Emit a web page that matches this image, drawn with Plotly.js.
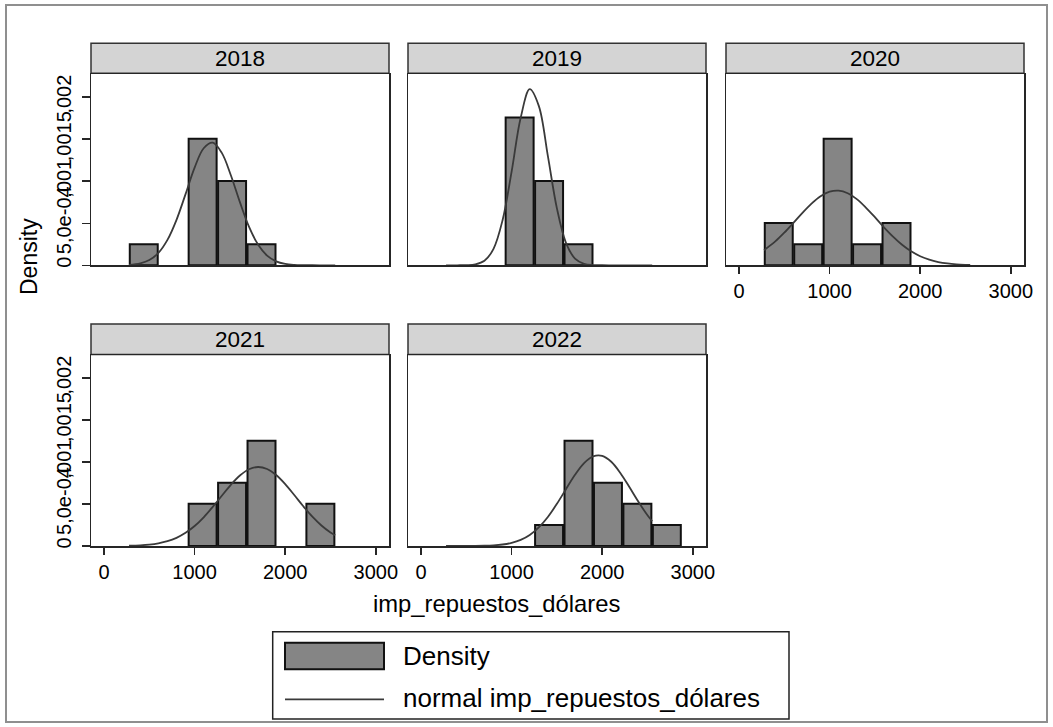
<!DOCTYPE html>
<html>
<head>
<meta charset="utf-8">
<script src="https://cdn.plot.ly/plotly-3.0.1.min.js"></script>
<style>html,body{margin:0;padding:0;background:#fff;}#chart{width:1053px;height:727px;}</style>
</head>
<body>
<div id="chart"></div>
<script>
// ---- data ----
const years = ['2018', '2019', '2020', '2021', '2022'];
const binCenters = [438.5, 763.5, 1088.5, 1413.5, 1738.5, 2063.5, 2388.5, 2713.5];
const binWidth = 325;
const dens2018 = [0.000251, 0, 0.001506, 0.001004, 0.000251, 0, 0, 0];
const dens2019 = [0, 0, 0.001757, 0.001004, 0.000251, 0, 0, 0];
const dens2020 = [0.000502, 0.000251, 0.001506, 0.000251, 0.000502, 0, 0, 0];
const dens2021 = [0, 0, 0.000502, 0.000753, 0.001255, 0, 0.000502, 0];
const dens2022 = [0, 0, 0, 0.000251, 0.001255, 0.000753, 0.000502, 0.000251];

const curveX = [276, 400, 500, 600, 700, 800, 900, 1000, 1100, 1200, 1300, 1400, 1500,
                1600, 1700, 1800, 1900, 2000, 2100, 2200, 2300, 2400, 2500, 2552];
const norm2018 = [0.0000057, 0.0000234, 0.0000627, 0.000147, 0.000302, 0.000541, 0.000847, 0.001161,
                  0.001392, 0.001459, 0.001337, 0.001071, 0.000751, 0.000460, 0.000247, 0.000115,
                  0.0000473, 0.0000170, 0.0000053, 0.0000015, 0.0000004, 0.0000001, 0, 0];
const norm2019 = [0, 0.0000002, 0.0000018, 0.0000113, 0.0000542, 0.000196, 0.000536, 0.001114,
                  0.001754, 0.002094, 0.001896, 0.001301, 0.000677, 0.000267, 0.0000797, 0.0000181,
                  0.0000031, 0.0000004, 0, 0, 0, 0, 0, 0];
const norm2020 = [0.000180, 0.000284, 0.000388, 0.000504, 0.000624, 0.000734, 0.000822, 0.000876,
                  0.000888, 0.000857, 0.000787, 0.000687, 0.000572, 0.000452, 0.000341, 0.000244,
                  0.000166, 0.000108, 0.0000667, 0.0000391, 0.0000219, 0.0000116, 0.0000059, 0.0000041];
const norm2021 = [0.0000033, 0.0000084, 0.0000168, 0.0000319, 0.0000573, 0.0000974, 0.000157, 0.000238,
                  0.000342, 0.000466, 0.000599, 0.000729, 0.000839, 0.000914, 0.000941, 0.000917,
                  0.000845, 0.000737, 0.000607, 0.000473, 0.000349, 0.000244, 0.000161, 0.000127];
const norm2022 = [0, 0.0000002, 0.0000004, 0.0000013, 0.0000033, 0.0000079, 0.0000179, 0.0000374,
                  0.0000729, 0.000132, 0.000222, 0.000346, 0.000502, 0.000677, 0.000848, 0.000988,
                  0.001068, 0.001074, 0.001003, 0.000870, 0.000702, 0.000526, 0.000366, 0.000295];

const xTickVals = [0, 1000, 2000, 3000];
const xTickText = ['0', '1000', '2000', '3000'];
const yTickVals = [0, 0.0005, 0.001, 0.0015, 0.002];
const yTickText = ['0', '5,0e-04', ',001', ',0015', ',002'];
const xTitle = 'imp_repuestos_dólares';
const yTitle = 'Density';
const legendBar = 'Density';
const legendLine = 'normal imp_repuestos_dólares';

const densByYear = [dens2018, dens2019, dens2020, dens2021, dens2022];
const normByYear = [norm2018, norm2019, norm2020, norm2021, norm2022];

// ---- layout geometry (pixels) ----
const W = 1053, H = 727;
const px = p => p / W;
const py = p => 1 - p / H;
const colX = [[91, 389], [408, 706], [726, 1024]];
const rowY = [[74, 265.3], [355, 546]];
const stripY = [[43.3, 73.3], [324, 354.5]];
const FONT = 'Liberation Sans, Arial, Helvetica, sans-serif';
const LINE = '#262626';

const traces = [];
const layout = {
  width: W, height: H,
  margin: {l: 0, r: 0, t: 0, b: 0, pad: 0},
  paper_bgcolor: '#ffffff', plot_bgcolor: '#ffffff',
  showlegend: false,
  font: {family: FONT, color: '#000'},
  bargap: 0,
  shapes: [], annotations: []
};

years.forEach((yr, i) => {
  const col = i % 3, row = Math.floor(i / 3);
  const suf = i === 0 ? '' : String(i + 1);
  const xa = 'x' + suf, ya = 'y' + suf;
  const showX = (row === 1) || (col === 2);
  const showY = (col === 0);

  const bx = [], by = [];
  densByYear[i].forEach((d, k) => { if (d > 0) { bx.push(binCenters[k]); by.push(d); } });
  traces.push({
    type: 'bar', x: bx, y: by, width: binWidth * 0.95,
    xaxis: xa, yaxis: ya, name: legendBar,
    marker: {color: '#858585', line: {color: '#111111', width: 2}},
    hoverinfo: 'skip'
  });
  traces.push({
    type: 'scatter', mode: 'lines', x: curveX, y: normByYear[i],
    xaxis: xa, yaxis: ya, name: legendLine,
    line: {color: '#3a3a3a', width: 1.8, shape: 'spline', smoothing: 1},
    hoverinfo: 'skip'
  });

  layout['xaxis' + suf] = {
    domain: [px(colX[col][0]), px(colX[col][1])], anchor: ya,
    range: [-144, 3146], showgrid: false, zeroline: false,
    showline: true, mirror: true, linecolor: LINE, linewidth: 1.5,
    ticks: showX ? 'outside' : '', ticklen: 7, tickwidth: 1.5, tickcolor: LINE,
    tickmode: 'array', tickvals: showX ? xTickVals : [], ticktext: showX ? xTickText : [],
    showticklabels: showX, tickfont: {family: FONT, size: 20, color: '#000'},
    fixedrange: true
  };
  layout['yaxis' + suf] = {
    domain: [py(rowY[row][1]), py(rowY[row][0])], anchor: xa,
    range: [0, 0.002275], showgrid: false, zeroline: false,
    showline: true, mirror: true, linecolor: LINE, linewidth: 1.5,
    ticks: showY ? 'outside' : '', ticklen: 8, tickwidth: 1.5, tickcolor: LINE,
    tickmode: 'array', tickvals: showY ? yTickVals : [], ticktext: showY ? yTickText : [],
    showticklabels: showY, tickangle: -90, ticklabelstandoff: 3,
    tickfont: {family: FONT, size: 20, color: '#000'},
    fixedrange: true
  };

  // strip
  layout.shapes.push({
    type: 'rect', xref: 'paper', yref: 'paper',
    x0: px(colX[col][0]), x1: px(colX[col][1]),
    y0: py(stripY[row][1]), y1: py(stripY[row][0]),
    fillcolor: '#d4d4d4', line: {color: '#333333', width: 1.5}, layer: 'below'
  });
  layout.annotations.push({
    xref: 'paper', yref: 'paper',
    x: px((colX[col][0] + colX[col][1]) / 2), y: py((stripY[row][0] + stripY[row][1]) / 2),
    xanchor: 'center', yanchor: 'middle', showarrow: false,
    text: yr, font: {family: FONT, size: 22.5, color: '#000'}
  });
});

// outer frame
layout.shapes.push({
  type: 'rect', xref: 'paper', yref: 'paper',
  x0: px(6), x1: px(1047), y0: py(722), y1: py(5),
  line: {color: '#8f8f8f', width: 2}, fillcolor: 'rgba(0,0,0,0)', layer: 'below'
});

// axis titles
layout.annotations.push({
  xref: 'paper', yref: 'paper', x: px(29), y: py(257),
  xanchor: 'center', yanchor: 'middle', showarrow: false, textangle: -90,
  text: yTitle, font: {family: FONT, size: 23, color: '#000'}
});
layout.annotations.push({
  xref: 'paper', yref: 'paper', x: px(496), y: py(603),
  xanchor: 'center', yanchor: 'middle', showarrow: false,
  text: xTitle, font: {family: FONT, size: 23.8, color: '#000'}
});

// legend (drawn by hand to match the reference key sizes)
layout.shapes.push({
  type: 'rect', xref: 'paper', yref: 'paper',
  x0: px(272.7), x1: px(789), y0: py(719), y1: py(631.7),
  line: {color: '#222222', width: 1.5}, fillcolor: '#ffffff', layer: 'below'
});
layout.shapes.push({
  type: 'rect', xref: 'paper', yref: 'paper',
  x0: px(285), x1: px(384), y0: py(669.3), y1: py(642.7),
  line: {color: '#111111', width: 2}, fillcolor: '#858585'
});
layout.shapes.push({
  type: 'line', xref: 'paper', yref: 'paper',
  x0: px(285), x1: px(384), y0: py(699.3), y1: py(699.3),
  line: {color: '#3a3a3a', width: 1.8}
});
layout.annotations.push({
  xref: 'paper', yref: 'paper', x: px(401), y: py(656),
  xanchor: 'left', yanchor: 'middle', showarrow: false,
  text: legendBar, font: {family: FONT, size: 26, color: '#000'}
});
layout.annotations.push({
  xref: 'paper', yref: 'paper', x: px(401), y: py(698),
  xanchor: 'left', yanchor: 'middle', showarrow: false,
  text: legendLine, font: {family: FONT, size: 26, color: '#000'}
});

Plotly.newPlot('chart', traces, layout, {displayModeBar: false, staticPlot: true});
</script>
</body>
</html>
